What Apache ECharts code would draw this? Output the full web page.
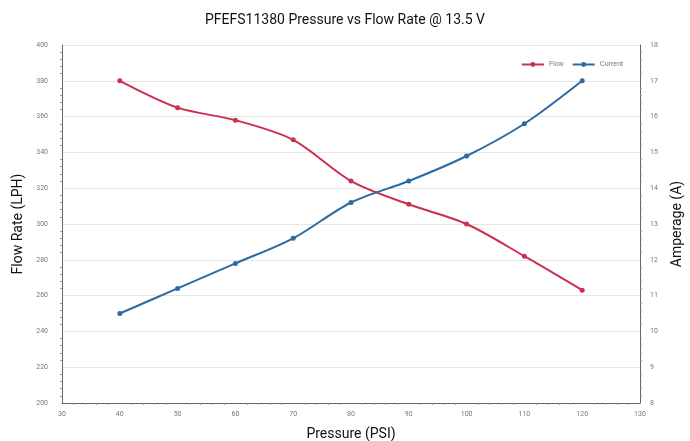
<!DOCTYPE html>
<html><head><meta charset="utf-8">
<script src="https://cdn.jsdelivr.net/npm/echarts@6/dist/echarts.min.js"></script>
<style>html,body{margin:0;padding:0;background:#fff}#c{width:690px;height:441px}</style>
</head><body><div id="c"></div>
<script>
const pressure = [40, 50, 60, 70, 80, 90, 100, 110, 120];
const flow = [380, 365, 358, 347, 324, 311, 300, 282, 263];
const current = [10.5, 11.2, 11.9, 12.6, 13.6, 14.2, 14.9, 15.8, 17.0];
const titleText = 'PFEFS11380 Pressure vs Flow Rate @ 13.5 V';

const chart = echarts.init(document.getElementById('c'));
const tickLabel = {fontSize: 7, color: '#777', fontFamily: 'Roboto'};
const axisLine = {show: true, lineStyle: {color: '#666', width: 1}};
chart.setOption({
  animation: false,
  title: {text: titleText, left: 'center', top: 8, textStyle: {fontSize: 14, fontWeight: 'normal', color: '#111', fontFamily: 'Roboto'}},
  legend: {right: 62, top: 56, itemWidth: 22, itemHeight: 6, itemGap: 8, textStyle: {fontSize: 7, color: '#777'},
    data: ['Flow', 'Current']},
  grid: {left: 62, right: 50, top: 45, bottom: 38, containLabel: false, outerBoundsMode: 'none'},
  xAxis: {type: 'value', min: 30, max: 130, interval: 10,
    name: 'Pressure (PSI)', nameLocation: 'middle', nameGap: 24,
    nameTextStyle: {fontSize: 14, color: '#111', fontFamily: 'Roboto'},
    axisLine: axisLine, axisTick: {show: false}, minorTick: {show: true, splitNumber: 5, length: 2, lineStyle: {color: '#999'}},
    axisLabel: tickLabel, splitLine: {show: false}},
  yAxis: [
    {type: 'value', min: 200, max: 400, interval: 20, position: 'left',
      name: 'Flow Rate (LPH)', nameLocation: 'middle', nameGap: 36, nameRotate: 90,
      nameTextStyle: {fontSize: 14, color: '#111', fontFamily: 'Roboto'},
      axisLine: axisLine, axisTick: {show: false}, minorTick: {show: true, splitNumber: 5, length: 2, lineStyle: {color: '#999'}},
      axisLabel: Object.assign({margin: 14}, tickLabel),
      splitLine: {show: true, lineStyle: {color: '#e6e6e6'}}},
    {type: 'value', min: 8, max: 18, interval: 1, position: 'right',
      name: 'Amperage (A)', nameLocation: 'middle', nameGap: 30, nameRotate: 90,
      nameTextStyle: {fontSize: 14, color: '#111', fontFamily: 'Roboto'},
      axisLine: axisLine, axisTick: {show: false}, minorTick: {show: true, splitNumber: 5, length: 2, lineStyle: {color: '#999'}},
      axisLabel: Object.assign({margin: 10}, tickLabel),
      splitLine: {show: false}}
  ],
  series: [
    {name: 'Flow', type: 'line', yAxisIndex: 0, smooth: 0.3, symbol: 'circle', symbolSize: 5,
      color: '#cc2f4f', lineStyle: {width: 2},
      data: pressure.map((p, i) => [p, flow[i]])},
    {name: 'Current', type: 'line', yAxisIndex: 1, smooth: 0.3, symbol: 'circle', symbolSize: 5,
      color: '#2c6aa0', lineStyle: {width: 2},
      data: pressure.map((p, i) => [p, current[i]])}
  ]
});
</script></body></html>
